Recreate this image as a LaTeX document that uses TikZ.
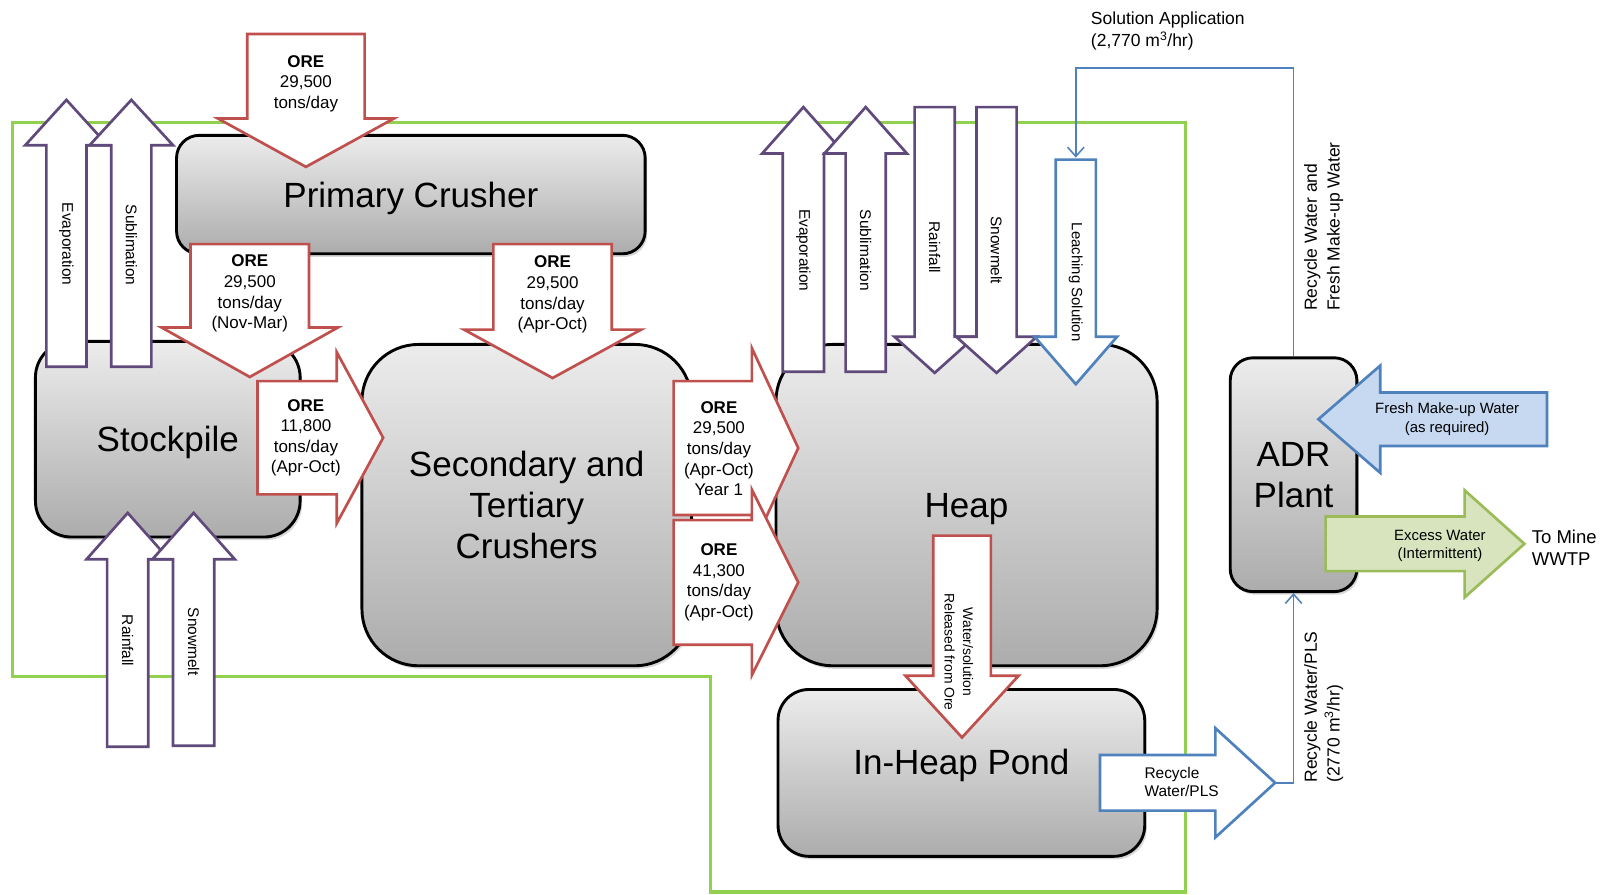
\documentclass[tikz,border=0pt]{standalone}
\usepackage{fontspec}
\setmainfont{Liberation Sans}
\usetikzlibrary{arrows.meta,shadows,calc}
\definecolor{orered}{RGB}{192,80,77}
\definecolor{purp}{RGB}{96,74,123}
\definecolor{wblue}{RGB}{79,129,189}
\definecolor{lgreen}{RGB}{146,208,80}
\definecolor{ogreen}{RGB}{155,187,89}
\definecolor{fgreen}{RGB}{215,228,189}
\definecolor{fblue}{RGB}{198,217,241}
\definecolor{boxtop}{RGB}{236,236,236}
\definecolor{boxbot}{RGB}{172,172,172}
% vertical block arrow: style, xc, half shaft, tail y, head base y, half head, tip y
\newcommand\blockV[7]{\draw[#1] ({#2-#3},#4) -- ({#2+#3},#4) -- ({#2+#3},#5) -- ({#2+#6},#5) -- (#2,#7) -- ({#2-#6},#5) -- ({#2-#3},#5) -- cycle;}
% horizontal block arrow: style, yc, half shaft, tail x, head base x, half head, tip x
\newcommand\blockH[7]{\draw[#1] (#4,{#2-#3}) -- (#5,{#2-#3}) -- (#5,{#2-#6}) -- (#7,#2) -- (#5,{#2+#6}) -- (#5,{#2+#3}) -- (#4,{#2+#3}) -- cycle;}
\tikzset{
  procbox/.style={draw=black, line width=2.8pt, top color=boxtop, bottom color=boxbot,
    drop shadow={shadow xshift=2pt,shadow yshift=-3pt,opacity=0.3},
    font=\fontsize{34}{40}\selectfont, align=center, inner sep=0pt, anchor=north west},
  onelinebox/.style={text depth=0pt},
  orearrow/.style={draw=orered, fill=white, line width=2.6pt, line join=miter},
  purparrow/.style={draw=purp, fill=white, line width=2.6pt, line join=miter},
  bluearrow/.style={draw=wblue, fill=white, line width=2.6pt, line join=miter},
  freshLarrow/.style={draw=wblue, fill=fblue, line width=2.6pt, line join=miter},
  excessarrow/.style={draw=ogreen, fill=fgreen, line width=2.6pt, line join=miter},
  oretext/.style={align=center, font=\fontsize{16.5}{20}\selectfont, inner sep=0pt},
  vtext/.style={rotate=-90, font=\fontsize{15}{18}\selectfont, inner sep=0pt},
  smalltext/.style={align=center, font=\fontsize{14.5}{18}\selectfont, inner sep=0pt},
  labeltext/.style={align=left, font=\fontsize{17}{22}\selectfont, inner sep=0pt},
  thinblue/.style={draw=wblue, line width=1.5pt},
  boundary/.style={draw=lgreen, line width=3pt}
}
\begin{document}
\begin{tikzpicture}[x=1pt,y=-1pt]
\useasboundingbox[fill=white] (0,0) rectangle (1568,868);
% green boundary
\draw[boundary] (12,119) -- (1151,119) -- (1151,866) -- (690,866) -- (690,657) -- (12,657) -- cycle;
% process boxes
\node[procbox, onelinebox, rounded corners=22pt, minimum width=455pt, minimum height=115pt] (prim) at (170,130) {Primary Crusher};
\node[procbox, onelinebox, rounded corners=35pt, minimum width=257pt, minimum height=190pt] (stock) at (33,330) {Stockpile};
\node[procbox, rounded corners=55pt, minimum width=320pt, minimum height=312pt] (sec) at (350,333) {Secondary and\\Tertiary\\Crushers};
\node[procbox, onelinebox, rounded corners=55pt, minimum width=370pt, minimum height=312pt] (heap) at (752,333) {Heap};
\node[procbox, rounded corners=30pt, minimum width=356pt, minimum height=162pt] (pond) at (754,668) {};
\node[font=\fontsize{34}{40}\selectfont, inner sep=0pt, text depth=0pt] (pondtxt) at ($(pond.center)+(0,-11)$) {In-Heap Pond};
\node[procbox, rounded corners=22pt, minimum width=123pt, minimum height=227pt] (adr) at (1193,346) {ADR\\Plant};
% ore arrows
\blockV{orearrow}{297}{57}{33}{115}{85.5}{162}
\node[oretext] (ore1) at (297,81) {\textbf{ORE}\\29,500\\tons/day};
\blockV{orearrow}{242.5}{57.5}{237}{318}{85.5}{366}
\node[oretext] (ore2) at (242.5,285) {\textbf{ORE}\\29,500\\tons/day\\(Nov-Mar)};
\blockV{orearrow}{536.5}{57.5}{237}{320}{86}{367}
\node[oretext] (ore3) at (536.5,286) {\textbf{ORE}\\29,500\\tons/day\\(Apr-Oct)};
\blockH{orearrow}{425}{55}{250}{327}{83}{372}
\node[oretext] (ore4) at (297,425) {\textbf{ORE}\\11,800\\tons/day\\(Apr-Oct)};
\blockH{orearrow}{435}{65}{654}{730}{97}{775}
\node[oretext] (ore5) at (698,435.5) {\textbf{ORE}\\29,500\\tons/day\\(Apr-Oct)\\Year 1};
\blockH{orearrow}{565.5}{60.5}{654}{730}{90}{775}
\node[oretext] (ore6) at (698,565.5) {\textbf{ORE}\\41,300\\tons/day\\(Apr-Oct)};
% stockpile water arrows
\blockV{purparrow}{64.5}{19.5}{356}{141}{40}{97}
\node[vtext] (evap1) at (64.5,237) {Evaporation};
\blockV{purparrow}{127.5}{19.5}{356}{141}{40.5}{97}
\node[vtext] (subl1) at (127.5,238) {Sublimation};
\blockV{purparrow}{124}{20}{725}{543}{40}{498}
\node[vtext] (rain1) at (124,622) {Rainfall};
\blockV{purparrow}{188}{20}{724}{543}{40}{498}
\node[vtext] (snow1) at (188,623) {Snowmelt};
% heap water arrows
\blockV{purparrow}{780}{20}{361}{149}{40}{104}
\node[vtext] (evap2) at (780,243) {Evaporation};
\blockV{purparrow}{840.5}{19.5}{361}{149}{40}{104}
\node[vtext] (subl2) at (840.5,243) {Sublimation};
\blockV{purparrow}{907.5}{19.5}{104}{327}{39}{362}
\node[vtext] (rain2) at (907.5,240) {Rainfall};
\blockV{purparrow}{967.5}{19.5}{104}{327}{39}{362}
\node[vtext] (snow2) at (967.5,243) {Snowmelt};
\blockV{bluearrow}{1044.5}{19.5}{155}{327}{40}{373}
\node[vtext, font=\fontsize{14.5}{18}\selectfont] (leach) at (1044.5,274) {Leaching Solution};
\coordinate (leachtop) at (1044.5,153);
% water released from ore
\blockV{orearrow}{934}{28}{520}{656}{55}{716}
\node[vtext, align=center, font=\fontsize{13.5}{18}\selectfont] (released) at (931,633) {Water/solution\\Released from Ore};
% recycle water arrow
\blockH{bluearrow}{760}{27}{1068}{1180}{53}{1238}
\node[smalltext, align=left, anchor=west, font=\fontsize{15}{18}\selectfont] (rectxt) at (1111,759) {Recycle\\Water/PLS};
\coordinate (rectip) at (1238,760);
% fresh make-up water arrow
\blockH{freshLarrow}{407}{26}{1502}{1340}{52}{1280}
\node[smalltext] (fresh) at (1405,407) {Fresh Make-up Water\\(as required)};
% excess water arrow
\blockH{excessarrow}{528}{26.5}{1287}{1422}{52}{1480}
\node[smalltext] (excess) at (1398,530) {Excess Water\\(Intermittent)};
\node[labeltext, anchor=west, font=\fontsize{18}{21}\selectfont] (wwtp) at (1487,532) {To Mine\\WWTP};
% thin connectors
\coordinate (solcorner) at (1044.5,66);
\draw[thinblue, -{Straight Barb[length=9pt,width=16pt]}] (adr.north) |- (solcorner) -- (leachtop);
\draw[thinblue, -{Straight Barb[length=9pt,width=16pt]}] (rectip) -| (adr.south);
% labels
\node[labeltext, anchor=north west] (solapp) at (1059,11) {Solution Application\\(2,770 m\textsuperscript{3}/hr)};
\node[labeltext, rotate=90, anchor=north west] (recfresh) at (1266,302) {Recycle Water and\\Fresh Make-up Water};
\node[labeltext, rotate=90, anchor=north west] (recpls) at (1266,760) {Recycle Water/PLS\\(2770 m\textsuperscript{3}/hr)};
\end{tikzpicture}
\end{document}
